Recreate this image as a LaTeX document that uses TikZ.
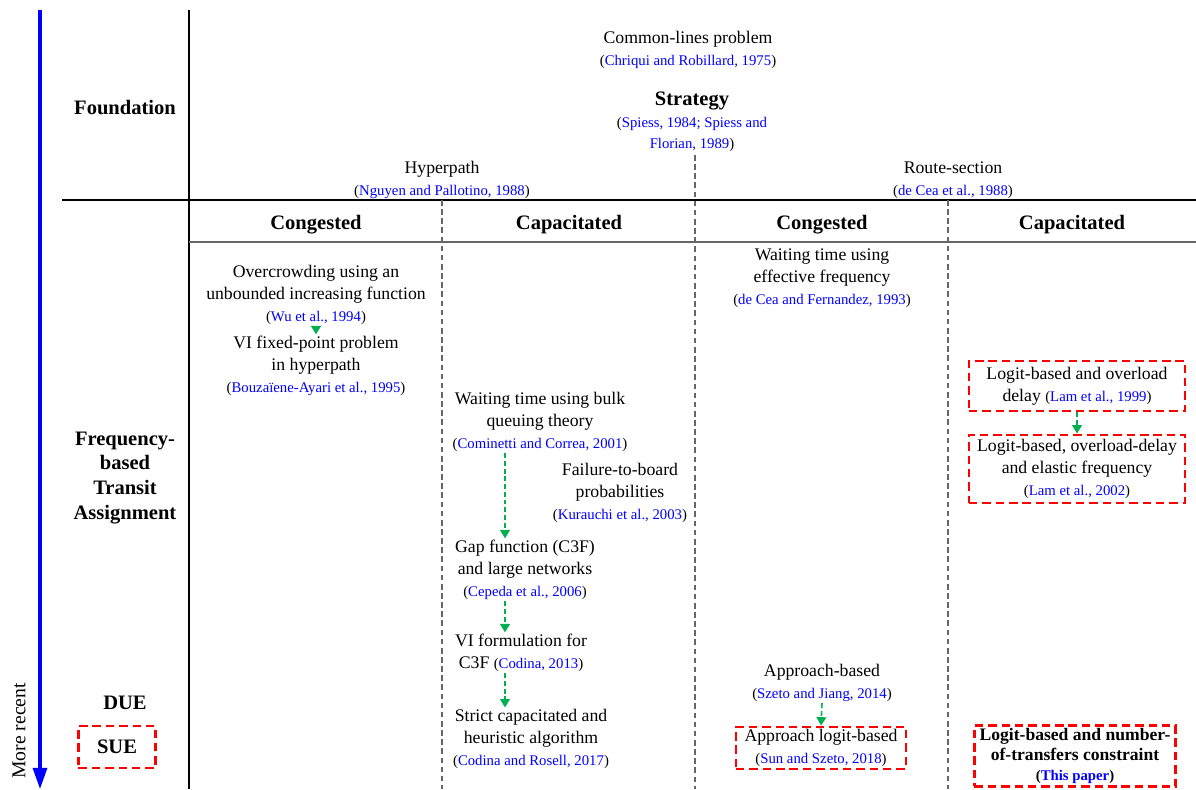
\documentclass[tikz,border=0pt]{standalone}
\usepackage{fontspec}
\setmainfont{Liberation Serif}
\usepackage{tikz}
\usetikzlibrary{arrows.meta, positioning, calc}

\definecolor{flowgreen}{RGB}{0,176,80}
\newcommand{\citesize}{\fontsize{10.5}{15.6}\selectfont}
\newcommand{\srcref}[1]{{\citesize(\textcolor{blue}{#1})}}

\begin{document}
\begin{tikzpicture}[x=0.025cm, y=-0.025cm,
        body/.style={font=\fontsize{12.6}{15.6}\selectfont, align=center, inner sep=1pt, yshift=-0.07cm},
        head/.style={font=\fontsize{14.6}{17.5}\selectfont\bfseries, align=center, inner sep=1pt, yshift=-0.07cm},
        redbox/.style={draw=red, line width=1.8pt, dash pattern=on 6pt off 3.5pt},
        sep/.style={draw=black!60, line width=0.9pt, dash pattern=on 4pt off 2.5pt},
        flow/.style={draw=flowgreen, line width=1.1pt, dash pattern=on 3.5pt off 2pt, -{Triangle[width=7pt,length=6pt]}}]
    \useasboundingbox (0,0) rectangle (1196,789);

    % time axis
    \coordinate (ttop) at (40,10);
    \coordinate (tbot) at (40,789);
    \draw[blue, line width=2.2pt, -{Triangle[width=10pt,length=15pt]}] (ttop) -- (tbot);
    \node[body, font=\fontsize{14}{16}\selectfont, rotate=90] (recent) at (19,728) {More recent};

    % table lines
    \draw[line width=1.4pt] (189,10) -- (189,789);
    \draw[line width=1.4pt] (62,200) -- (1196,200);
    \draw[black!60, line width=1pt] (189,242) -- (1196,242);
    \draw[sep] (442,200) -- (442,789);
    \draw[sep] (695,155) -- (695,789);
    \draw[sep] (948,200) -- (948,789);

    % row labels
    \node[head] (found) at (125,105) {Foundation};
    \node[head] (fbta) at (125,475) {Frequency-\\based\\Transit\\Assignment};
    \node[head] (due) at (125,700) {DUE};
    \node[head, redbox, minimum width=1.925cm, minimum height=1.05cm] (sue) at (117,744) {SUE};

    % foundation
    \node[body] (common) at (688,47) {Common-lines problem\\\srcref{Chriqui and Robillard, 1975}};
    \node[body] (strategy) at (692,119) {{\fontsize{14.6}{15.6}\selectfont\bfseries Strategy}\\
        {\citesize(\textcolor{blue}{Spiess, 1984; Spiess and}}\\{\citesize\textcolor{blue}{Florian, 1989})}};
    \node[body] (hyper) at (442,177) {Hyperpath\\\srcref{Nguyen and Pallotino, 1988}};
    \node[body] (route) at (953,177) {Route-section\\\srcref{de Cea et al., 1988}};

    % column heads
    \node[head] (hcong1) at (316,222) {Congested};
    \node[head] (hcap1) at (569,222) {Capacitated};
    \node[head] (hcong2) at (822,222) {Congested};
    \node[head] (hcap2) at (1072,222) {Capacitated};

    % hyperpath, congested
    \node[body] (over) at (316,292) {Overcrowding using an\\unbounded increasing function\\\srcref{Wu et al., 1994}};
    \node[body] (vi) at (316,363) {VI fixed-point problem\\in hyperpath\\\srcref{Bouzaïene-Ayari et al., 1995}};

    % hyperpath, capacitated
    \node[body] (cominetti) at (540,419) {Waiting time using bulk\\queuing theory\\\srcref{Cominetti and Correa, 2001}};
    \node[body] (failure) at (620,490) {Failure-to-board\\probabilities\\\srcref{Kurauchi et al., 2003}};
    \node[body] (gap) at (525,567) {Gap function (C3F)\\and large networks\\\srcref{Cepeda et al., 2006}};
    \node[body] (codina13) at (521,650) {VI formulation for\\C3F \srcref{Codina, 2013}};
    \node[body] (strict) at (531,736) {Strict capacitated and\\heuristic algorithm\\\srcref{Codina and Rosell, 2017}};

    % route-section, congested
    \node[body] (decea) at (822,275) {Waiting time using\\effective frequency\\\srcref{de Cea and Fernandez, 1993}};
    \node[body] (szeto) at (822,680) {Approach-based\\\srcref{Szeto and Jiang, 2014}};
    \node[body, redbox, minimum width=4.25cm, minimum height=1.05cm] (sun) at (821,745) {Approach logit-based\\\srcref{Sun and Szeto, 2018}};

    % route-section, capacitated
    \node[body, redbox, minimum width=5.4cm, minimum height=1.25cm] (lam99) at (1077,383) {Logit-based and overload\\delay \srcref{Lam et al., 1999}};
    \node[body, redbox, minimum width=5.4cm, minimum height=1.7cm] (lam02) at (1077,466) {Logit-based, overload-delay\\and elastic frequency\\\srcref{Lam et al., 2002}};
    \node[body, redbox, minimum width=5.025cm, minimum height=1.525cm, font=\fontsize{12.5}{14.2}\selectfont\bfseries] (thispaper) at (1075,753) {Logit-based and number-\\of-transfers constraint\\{\citesize\bfseries(\textcolor{blue}{This paper})}};

    % links
    \coordinate (capcol) at (505,0);
    \draw[flow] (over.south) -- (vi.north);
    \draw[flow] (cominetti.south -| capcol) -- (gap.north -| capcol);
    \draw[flow] (gap.south -| capcol) -- (codina13.north -| capcol);
    \draw[flow] (codina13.south -| capcol) -- (strict.north -| capcol);
    \draw[flow] (szeto.south) -- (sun.north);
    \draw[flow] (lam99.south) -- (lam02.north);
\end{tikzpicture}
\end{document}
